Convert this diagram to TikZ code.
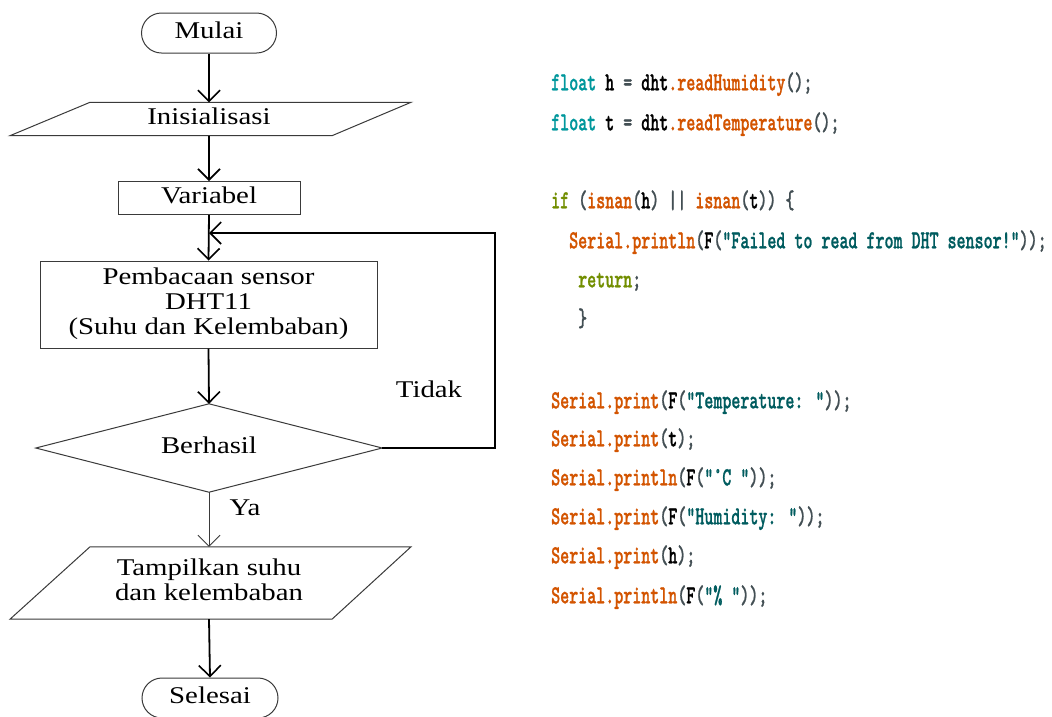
\documentclass[tikz,border=0pt]{standalone}
\usepackage{fontspec}
\usepackage{graphicx}
\setmainfont{Liberation Serif}
\newfontfamily\codefont{lmmonolt10-bold.otf}[FakeBold=1.2]
\usetikzlibrary{arrows.meta,shapes.misc}

% Arduino IDE syntax colours
\definecolor{kwteal}{HTML}{00979C}
\definecolor{kwolive}{HTML}{728E00}
\definecolor{fnorange}{HTML}{D35400}
\definecolor{strteal}{HTML}{005C5F}
\definecolor{punct}{HTML}{434F54}
\definecolor{outline}{HTML}{3A3A3A}

\newcommand{\flowtext}[1]{\scalebox{1.2}[1]{\begin{tabular}{@{}c@{}}#1\end{tabular}}}
\newcommand{\codeline}[1]{\scalebox{0.66}[1]{\codefont #1}}
\newcommand{\Ktype}[1]{\textcolor{kwteal}{#1}}
\newcommand{\Kctrl}[1]{\textcolor{kwolive}{#1}}
\newcommand{\Kfn}[1]{\textcolor{fnorange}{#1}}
\newcommand{\Kstr}[1]{\textcolor{strteal}{#1}}
\newcommand{\Kp}[1]{\textcolor{punct}{#1}}

\tikzset{
  shapeline/.style={draw=outline, line width=1pt},
  flowfont/.style={font=\fontsize{24}{25}\selectfont},
  terminal/.style={shapeline, flowfont, rounded rectangle, minimum width=135pt, minimum height=40pt, inner sep=0pt},
  processbox/.style={shapeline, flowfont, rectangle, inner sep=0pt},
  textonly/.style={flowfont, inner sep=0pt},
  flowarrow/.style={draw=black, line width=1.8pt, -{Straight Barb[length=11pt,width=22pt,line width=1.6pt]}},
  thinarrow/.style={draw=outline, line width=0.9pt, -{Straight Barb[length=11pt,width=22pt,line width=0.9pt]}},
  code/.style={anchor=mid west, inner sep=0pt, font=\fontsize{26}{26}\selectfont},
}

\begin{document}
\begin{tikzpicture}[x=1pt, y=-1pt]
\useasboundingbox (0,0) rectangle (1052,716);
\clip (0,0) rectangle (1052,716);
\fill[white] (0,0) rectangle (1052,716);

% ---- flowchart ----
\node[terminal] (mulai) at (209,33) {\flowtext{Mulai}};

\node[textonly, minimum height=33pt] (ini) at (209,119) {\flowtext{Inisialisasi}};
\draw[shapeline] ([xshift=-119pt]ini.north) -- ([xshift=202pt]ini.north)
  -- ([xshift=123pt]ini.south) -- ([xshift=-199pt]ini.south) -- cycle;

\node[processbox, minimum width=182pt, minimum height=33pt] (var) at (209,198) {\flowtext{Variabel}};

\node[processbox, minimum width=337pt, minimum height=87pt] (pem) at (208.5,304.5)
  {\flowtext{Pembacaan sensor\\DHT11\\(Suhu dan Kelembaban)}};

% decision: diamond spanned by the anchors of its text node
\node[textonly, minimum width=346pt, minimum height=88pt] (dia) at (209,448) {\flowtext{Berhasil}};
\draw[shapeline] (dia.north) -- (dia.east) -- (dia.south) -- (dia.west) -- cycle;

\node[textonly, minimum height=72pt] (tam) at (209,583) {\flowtext{Tampilkan suhu\\dan kelembaban}};
\draw[shapeline] ([xshift=-119pt]tam.north) -- ([xshift=202pt]tam.north)
  -- ([xshift=123pt]tam.south) -- ([xshift=-199pt]tam.south) -- cycle;

\node[terminal, minimum width=136pt] (selesai) at (210,698) {\flowtext{Selesai}};

% connectors
\draw[flowarrow] (mulai.south) -- (ini.north);
\draw[flowarrow] (ini.south) -- (var.north);
\draw[flowarrow] (var.south) -- (pem.north);
\draw[flowarrow] (pem.south) -- (dia.north);
\draw[thinarrow] (dia.south) -- (tam.north);
\draw[flowarrow] (tam.south) -- (selesai.north);

\coordinate (turn) at (495,448);
\coordinate (entry) at (209,233);
\draw[flowarrow] (dia.east) -- (turn) |- (entry);

\node[textonly] (tidak) at (429,392) {\flowtext{Tidak}};
\node[textonly] (ya) at (245,510) {\flowtext{Ya}};

% ---- Arduino sketch excerpt ----
\node[code] (c1) at (551,88) {\codeline{\Ktype{float} h \Kp{=} dht\Kfn{.readHumidity}\Kp{();}}};
\node[code] (c2) at (551,128) {\codeline{\Ktype{float} t \Kp{=} dht\Kfn{.readTemperature}\Kp{();}}};
\node[code] (c3) at (551,206) {\codeline{\Kctrl{if} \Kp{(}\Kfn{isnan}\Kp{(}h\Kp{)} \Kp{||} \Kfn{isnan}\Kp{(}t\Kp{))} \Kp{\{}}};
\node[code] (c4) at (569,246) {\codeline{\Kfn{Serial.println}\Kp{(}F\Kp{(}\Kstr{"Failed to read from DHT sensor!"}\Kp{));}}};
\node[code] (c5) at (578,285) {\codeline{\Kctrl{return}\Kp{;}}};
\node[code] (c6) at (578,324) {\codeline{\Kp{\}}}};
\node[code] (c7) at (551,406) {\codeline{\Kfn{Serial.print}\Kp{(}F\Kp{(}\Kstr{"Temperature: "}\Kp{));}}};
\node[code] (c8) at (551,444) {\codeline{\Kfn{Serial.print}\Kp{(}t\Kp{);}}};
\node[code] (c9) at (551,483) {\codeline{\Kfn{Serial.println}\Kp{(}F\Kp{(}\Kstr{"°C "}\Kp{));}}};
\node[code] (c10) at (551,522) {\codeline{\Kfn{Serial.print}\Kp{(}F\Kp{(}\Kstr{"Humidity: "}\Kp{));}}};
\node[code] (c11) at (551,561) {\codeline{\Kfn{Serial.print}\Kp{(}h\Kp{);}}};
\node[code] (c12) at (551,601) {\codeline{\Kfn{Serial.println}\Kp{(}F\Kp{(}\Kstr{"\% "}\Kp{));}}};
\end{tikzpicture}
\end{document}
